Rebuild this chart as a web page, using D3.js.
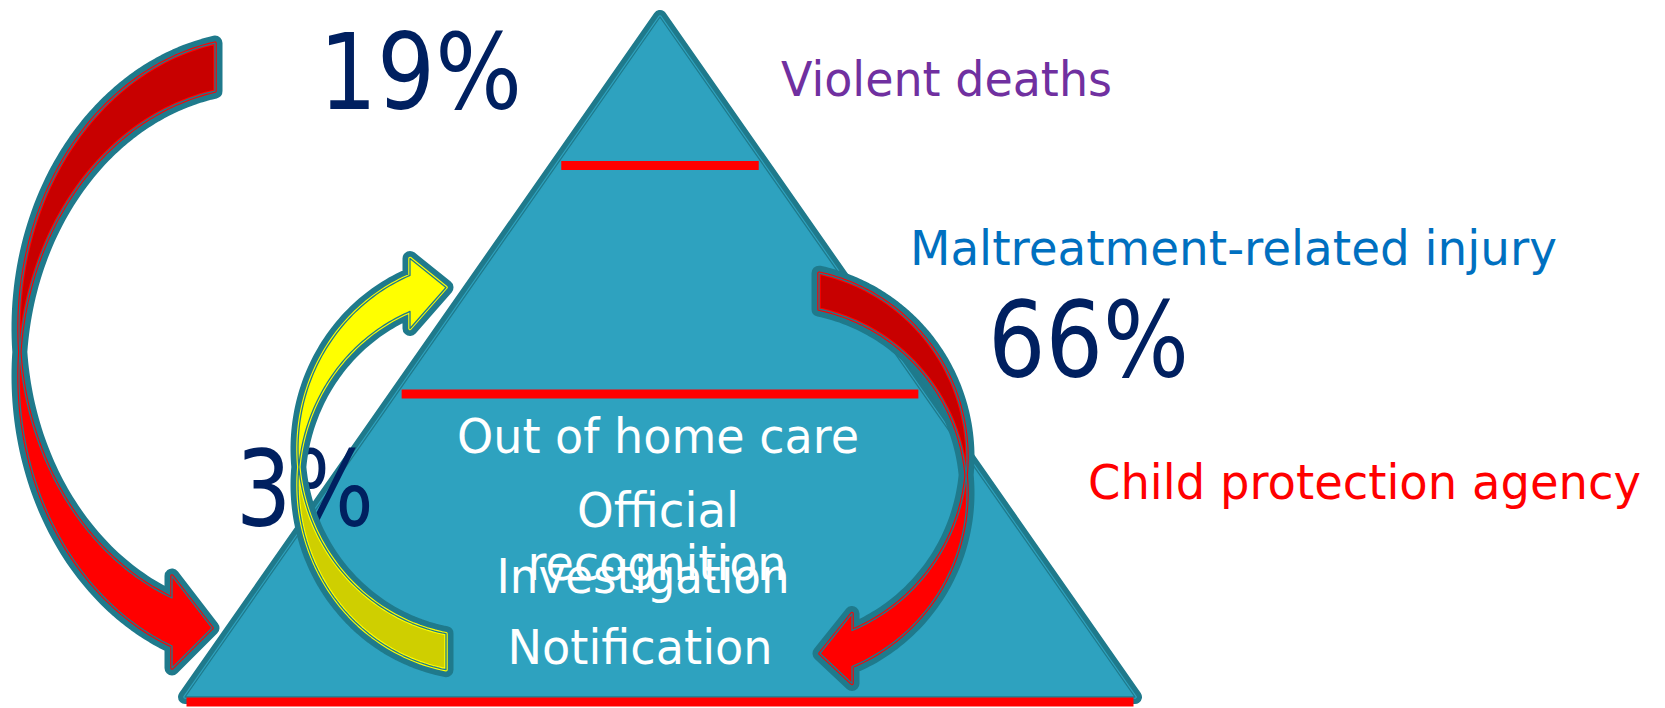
<!DOCTYPE html>
<html>
<head>
<meta charset="utf-8">
<script src="https://cdn.jsdelivr.net/npm/d3@7"></script>
<style>
  html, body { margin: 0; padding: 0; background: #fff; }
  svg { display: block; }
</style>
</head>
<body>
<div id="container"></div>
<script>
const width = 1665;
const height = 708;

// pyramid tiers: red dividers as a share of the pyramid height (0 = apex, 1 = base)
const tierBreaks = [0.2168, 0.5504, 1];
const tierLabels = ["Out of home care", "Official", "recognition", "Investigation", "Notification"];
const sideLabels = ["Violent deaths", "Maltreatment-related injury", "Child protection agency"];
const shares = [19, 66, 3];

// layout only (positions / sizes of the texts)
const tierLabelPos = [ // [centre x, baseline, width]
  [658, 453, 402], [658, 527, 162], [657, 580, 259], [643, 593, 293], [640, 664, 265]
];
const sideLabelPos = [[781, 96, 331], [910, 265, 647], [1088, 499, 553]];
const sideLabelColor = ["#7030a0", "#0070c0", "#ff0000"];
const sharePos = [[319, 109, 203], [988, 377, 201], [236, 526, 138]];

const teal = "#1f7a8c";
const pyramidFill = "#2ea2bf";

const svg = d3.select("#container").append("svg")
  .attr("width", width)
  .attr("height", height)
  .attr("viewBox", [0, 0, width, height]);

const defs = svg.append("defs");
function gradient(id, top, bottom) {
  const g = defs.append("linearGradient").attr("id", id)
    .attr("x1", 0).attr("y1", 0).attr("x2", 0).attr("y2", 1);
  g.append("stop").attr("offset", 0).attr("stop-color", top);
  g.append("stop").attr("offset", 0.45).attr("stop-color", top);
  g.append("stop").attr("offset", 0.58).attr("stop-color", bottom);
  g.append("stop").attr("offset", 1).attr("stop-color", bottom);
}
gradient("redGrad", "#c80000", "#ff0000");
gradient("yellowGrad", "#ffff00", "#cfcf00");

// vertical scale of the pyramid and the half width at a given pixel height
const cx = 660;
const y = d3.scaleLinear().domain([0, 1]).range([17, 702]);
const baseY = y(1) - 5;
const halfWidth = d3.scaleLinear().domain([y(0), baseY]).range([0, 475]);

// draws a path with the double outline look (thick teal, thin colour, thin teal)
function compound(g, d, fill, line, outer) {
  g.append("path").attr("d", d)
    .attr("fill", "none").attr("stroke", teal)
    .attr("stroke-width", outer).attr("stroke-linejoin", "round");
  g.append("path").attr("d", d)
    .attr("fill", fill).attr("stroke", line)
    .attr("stroke-width", 3.5).attr("stroke-linejoin", "round");
  g.append("path").attr("d", d)
    .attr("fill", "none").attr("stroke", teal)
    .attr("stroke-width", 1.3).attr("stroke-linejoin", "round");
}

// pyramid
const tri = d3.path();
tri.moveTo(cx, y(0));
tri.lineTo(cx + halfWidth(baseY), baseY);
tri.lineTo(cx - halfWidth(baseY), baseY);
tri.closePath();
compound(svg.append("g"), tri.toString(), pyramidFill, pyramidFill, 14);

// red tier dividers
svg.append("g")
  .selectAll("line")
  .data(tierBreaks)
  .join("line")
  .attr("x1", d => cx - halfWidth(y(d)) + 5)
  .attr("x2", d => cx + halfWidth(y(d)) - 5)
  .attr("y1", d => y(d))
  .attr("y2", d => y(d))
  .attr("stroke", "#ff0000")
  .attr("stroke-width", 9);

// labels inside the pyramid
svg.append("g")
  .attr("font-family", "'DejaVu Sans', sans-serif")
  .attr("font-size", 48)
  .attr("fill", "#ffffff")
  .selectAll("text")
  .data(tierLabels)
  .join("text")
  .attr("x", (d, i) => tierLabelPos[i][0] - tierLabelPos[i][2] / 2)
  .attr("y", (d, i) => tierLabelPos[i][1])
  .attr("textLength", (d, i) => tierLabelPos[i][2])
  .attr("lengthAdjust", "spacingAndGlyphs")
  .text(d => d);

// labels to the right
svg.append("g")
  .attr("font-family", "'DejaVu Sans', sans-serif")
  .attr("font-size", 48)
  .selectAll("text")
  .data(sideLabels)
  .join("text")
  .attr("x", (d, i) => sideLabelPos[i][0])
  .attr("y", (d, i) => sideLabelPos[i][1])
  .attr("textLength", (d, i) => sideLabelPos[i][2])
  .attr("lengthAdjust", "spacingAndGlyphs")
  .attr("fill", (d, i) => sideLabelColor[i])
  .text(d => d);

// percentages
svg.append("g")
  .attr("font-family", "'DejaVu Sans', sans-serif")
  .attr("font-size", 106)
  .attr("fill", "#002060")
  .selectAll("text")
  .data(shares)
  .join("text")
  .attr("x", (d, i) => sharePos[i][0])
  .attr("y", (d, i) => sharePos[i][1])
  .attr("textLength", (d, i) => sharePos[i][2])
  .attr("lengthAdjust", "spacingAndGlyphs")
  .text(d => d + "%");

/**
 * Curved arrow like the office "curved right arrow": the body lies between
 * two equal ellipses shifted by the thickness t, tail at the top, body on the
 * left, head at the bottom pointing right. flipX / flipY mirror it.
 */
function curvedArrow(p) {
  const h = p.t / 2;
  const tx = p.tailX, hx = p.headX;
  const pts = [];
  const arc = (ccy, a0, a1) => {
    const n = 60;
    for (let k = 0; k <= n; k++) {
      const a = a0 + (a1 - a0) * k / n;
      pts.push([p.rx * Math.cos(a), ccy + p.ry * Math.sin(a)]);
    }
  };
  const cross = Math.asin(h / p.ry);
  // outer edge
  arc(-h, -Math.acos(tx / p.rx), -Math.PI - cross);
  arc(h, Math.PI + cross, Math.acos(hx / p.rx));
  // head
  const s = Math.sqrt(1 - (hx / p.rx) ** 2) * p.ry;
  const yb = h + s, ya = -h + s;
  pts.push([hx, yb + p.flare]);
  pts.push([hx + p.headLen, (ya + yb) / 2 + p.tipDy]);
  pts.push([hx, ya - p.flare]);
  // inner edge
  arc(-h, Math.acos(hx / p.rx), Math.PI - cross);
  arc(h, Math.PI + cross, 2 * Math.PI - Math.acos(tx / p.rx));
  const sx = p.flipX ? -1 : 1, sy = p.flipY ? -1 : 1;
  return d3.line()(pts.map(([a, b]) => [p.cx + sx * a, p.cy + sy * b])) + "Z";
}

const arrows = [
  { cx: 260, cy: 352, rx: 241, ry: 290, t: 48, tailX: -45, headX: -88, flare: 22, headLen: 40, tipDy: 6, fill: "url(#redGrad)", line: "#ff0000" },
  { cx: 480, cy: 467, rx: 182, ry: 188, t: 36, tailX: -34, headX: -70, flare: 17, headLen: 36, tipDy: 6, flipY: true, fill: "url(#yellowGrad)", line: "#ffff00" },
  { cx: 780, cy: 475, rx: 187, ry: 188, t: 36, tailX: -39, headX: -72, flare: 17, headLen: 32, tipDy: 5, flipX: true, fill: "url(#redGrad)", line: "#ff0000" }
];

arrows.forEach(a => compound(svg.append("g"), curvedArrow(a), a.fill, a.line, 15));
</script>
</body>
</html>
